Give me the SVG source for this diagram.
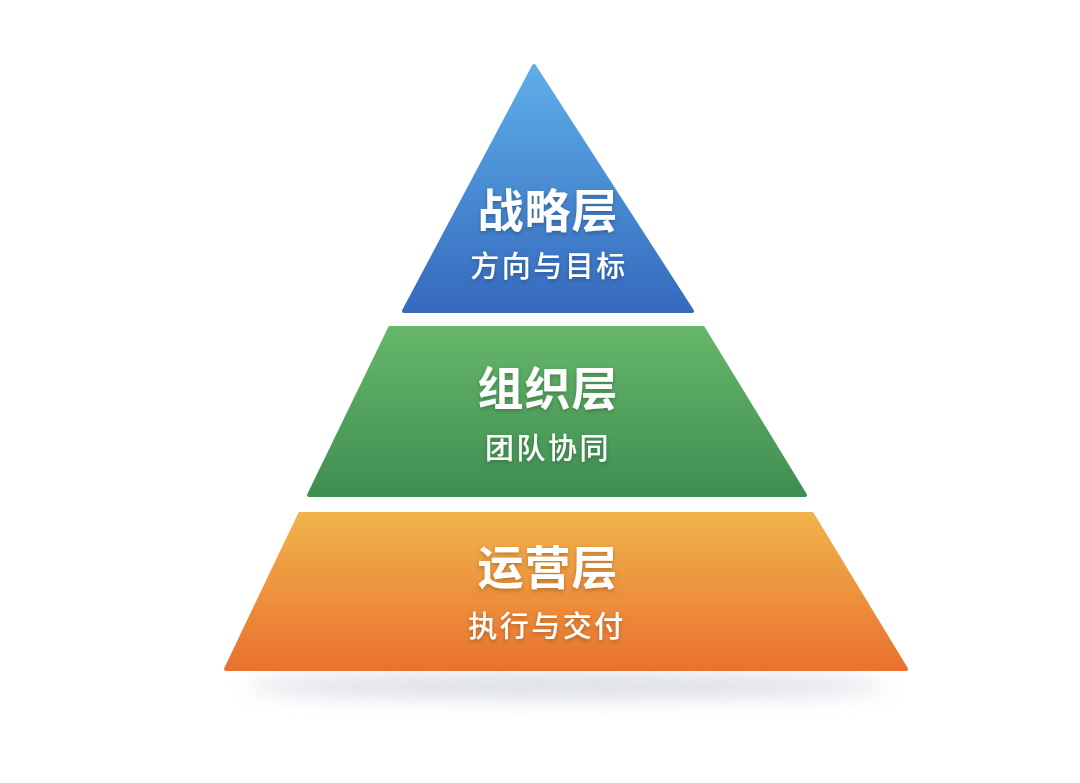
<svg xmlns="http://www.w3.org/2000/svg" width="1080" height="783" viewBox="0 0 1080 783">
<defs>
<linearGradient id="gBlue" x1="0" y1="0" x2="0" y2="1"><stop offset="0" stop-color="#5eaee8"/><stop offset="1" stop-color="#3569bd"/></linearGradient>
<linearGradient id="gGreen" x1="0" y1="0" x2="0" y2="1"><stop offset="0" stop-color="#66b66a"/><stop offset="1" stop-color="#3f8e52"/></linearGradient>
<linearGradient id="gOrange" x1="0" y1="0" x2="0" y2="1"><stop offset="0" stop-color="#f1b24b"/><stop offset="1" stop-color="#e9722f"/></linearGradient>
<filter id="soft" x="-20%" y="-200%" width="140%" height="500%"><feGaussianBlur stdDeviation="10"/></filter>
<filter id="ts" x="-10%" y="-20%" width="120%" height="160%"><feDropShadow dx="0" dy="2" stdDeviation="2" flood-color="#000" flood-opacity="0.25"/></filter>
</defs>
<style>
.title{font-family:"Noto Sans CJK SC","Noto Sans",sans-serif;font-weight:700;font-size:46px;fill:#fff;text-anchor:middle;letter-spacing:1px;}
.sub{font-family:"Noto Sans CJK SC","Noto Sans",sans-serif;font-weight:500;font-size:29px;fill:#fff;text-anchor:middle;letter-spacing:2.5px;}
.layer{stroke-linejoin:round;stroke-width:4;}
</style>
<rect width="1080" height="783" fill="#ffffff"/>
<ellipse cx="566" cy="686" rx="320" ry="12" fill="#c9ced8" opacity="0.7" filter="url(#soft)"/>
<g id="strategy">
<path class="layer" d="M534 66 L692 311 L404 311 Z" fill="url(#gBlue)" stroke="url(#gBlue)"/>
<text class="title" x="548" y="227" filter="url(#ts)">战略层</text>
<text class="sub" x="549" y="277" filter="url(#ts)">方向与目标</text>
</g>
<g id="organization">
<path class="layer" d="M390 328 L703 328 L805 495 L309 495 Z" fill="url(#gGreen)" stroke="url(#gGreen)"/>
<text class="title" x="548" y="405" filter="url(#ts)">组织层</text>
<text class="sub" x="548" y="459" filter="url(#ts)">团队协同</text>
</g>
<g id="operations">
<path class="layer" d="M300 514 L812 514 L906 669 L226 669 Z" fill="url(#gOrange)" stroke="url(#gOrange)"/>
<text class="title" x="548" y="584" filter="url(#ts)">运营层</text>
<text class="sub" x="547" y="637" filter="url(#ts)">执行与交付</text>
</g>
<g id="connectors"/>
</svg>
